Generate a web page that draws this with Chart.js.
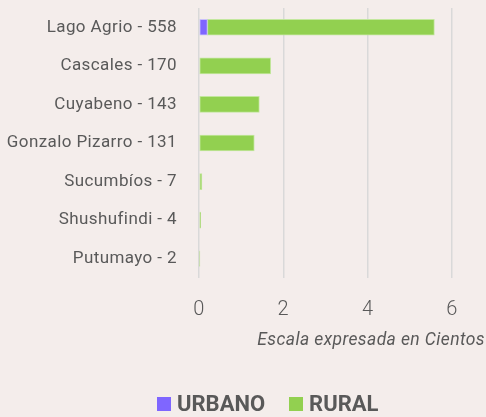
<!DOCTYPE html>
<html>
<head>
<meta charset="utf-8">
<script src="https://cdn.jsdelivr.net/npm/chart.js@4.4.1/dist/chart.umd.min.js"></script>
<style>
  html, body { margin: 0; padding: 0; background: #F4EDEB; }
  #wrap { position: relative; width: 486px; height: 417px; }
  #legend {
    position: absolute; left: 157px; top: 391px;
    display: flex; align-items: center;
    font-family: Roboto, sans-serif; font-weight: bold; font-size: 22px; color: #595959;
  }
  #legend .item { display: flex; align-items: center; margin-right: 24px; }
  #legend .box { width: 14px; height: 14px; margin-right: 6px; }
</style>
</head>
<body>
<div id="wrap">
  <canvas id="chart" width="486" height="417"></canvas>
  <div id="legend"></div>
</div>
<script>
// values in hundreds
const categories = ['Lago Agrio - 558', 'Cascales - 170', 'Cuyabeno - 143', 'Gonzalo Pizarro - 131',
                    'Sucumbíos - 7', 'Shushufindi - 4', 'Putumayo - 2'];
const urbano = [0.20, 0, 0, 0, 0, 0, 0];
const rural = [5.38, 1.70, 1.43, 1.31, 0.07, 0.04, 0.02];
const tickValues = [0, 2, 4, 6];
const axisTitle = 'Escala expresada en Cientos';

const colors = { urbano: '#7F66FF', rural: '#92D050' };
const gray = '#595959';

// a little letter spacing, like the original labels
const spacing = {
  id: 'spacing',
  beforeLayout(chart) { chart.ctx.letterSpacing = '0.4px'; },
  beforeDraw(chart) { chart.ctx.letterSpacing = '0.4px'; }
};

new Chart(document.getElementById('chart'), {
  type: 'bar',
  data: {
    labels: categories,
    datasets: [
      { label: 'URBANO', data: urbano, backgroundColor: colors.urbano,
        borderColor: 'rgba(190,180,255,0.8)', borderWidth: 1, borderSkipped: false },
      { label: 'RURAL', data: rural, backgroundColor: colors.rural,
        borderColor: 'rgba(190,230,150,0.9)', borderWidth: 1, borderSkipped: false }
    ]
  },
  plugins: [spacing],
  options: {
    indexAxis: 'y',
    responsive: false,
    animation: false,
    barThickness: 16,
    layout: { padding: { top: 8, right: 1, bottom: 59, left: 0 } },
    plugins: { legend: { display: false }, tooltip: { enabled: false } },
    scales: {
      x: {
        stacked: true,
        min: 0,
        max: 6.78,
        afterBuildTicks: axis => { axis.ticks = tickValues.map(v => ({ value: v })); },
        afterFit: s => { s.height = 80; },
        grid: { color: '#D9D9D9', lineWidth: 1.5, drawTicks: false },
        border: { display: false },
        ticks: { padding: 20, color: gray, font: { family: 'Roboto', size: 20, weight: 300 } },
        title: {
          display: true, text: axisTitle, align: 'end', color: gray,
          font: { family: 'Roboto', size: 17.5, style: 'italic' },
          padding: { top: 0, bottom: 7 }
        }
      },
      y: {
        stacked: true,
        // tick padding would otherwise push the plot area down
        afterFit: s => { s.width = 199; s.paddingTop = 0; s.paddingBottom = 0; },
        grid: { display: false, drawTicks: false },
        border: { display: false },
        ticks: { padding: 22, color: gray, font: { family: 'Roboto', size: 17 } }
      }
    }
  }
});

const legend = document.getElementById('legend');
[['URBANO', colors.urbano], ['RURAL', colors.rural]].forEach(([name, c]) => {
  const item = document.createElement('div');
  item.className = 'item';
  item.innerHTML = '<span class="box" style="background:' + c + '"></span><span>' + name + '</span>';
  legend.appendChild(item);
});
</script>
</body>
</html>
